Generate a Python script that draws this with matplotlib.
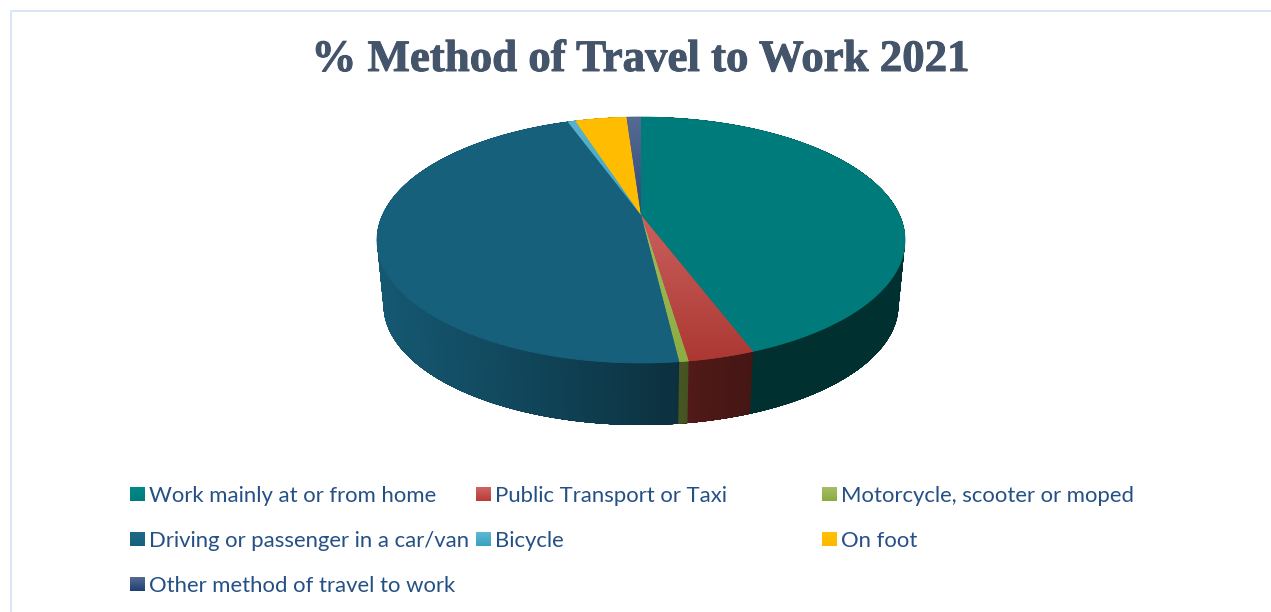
import numpy as np
import matplotlib
matplotlib.use('Agg')
import matplotlib.pyplot as plt
import matplotlib.patheffects as pe
from matplotlib.colors import LinearSegmentedColormap, to_rgb
from matplotlib.patches import Polygon

# share of workers per method, %
methods = ['Work mainly at or from home', 'Public Transport or Taxi', 'Motorcycle, scooter or moped',
           'Driving or passenger in a car/van', 'Bicycle', 'On foot', 'Other method of travel to work']
shares = [44.3, 3.35, 0.47, 46.4, 0.58, 3.83, 1.07]

# (light, dark) ends of each slice's vertical gradient
top_colors = [('#007c7c', '#007a7a'), ('#c9605c', '#ad3833'), ('#a0bb5c', '#8dac44'),
              ('#17607c', '#17607c'), ('#58b2ce', '#3ea6c4'), ('#ffbd00', '#ffbb00'),
              ('#566a92', '#2c4a7c')]
swatch_colors = [('#008a88', '#007c7c'), ('#cc6663', '#bb3a36'), ('#a6c062', '#8aaa42'),
                 ('#1c6a88', '#17607c'), ('#5fb8d2', '#36a2c0'), ('#ffc000', '#ffb800'),
                 ('#566a92', '#1f3f72')]

WIDTH, HEIGHT = 1271, 612
CX, APEX_Y = 641, 215

# perspective of the pie disc
K = 0.2033
A = 117.9
B = 258.5
DROP = 65.7
SHRINK = 0.975


def project(theta, lower=False):
    # theta runs clockwise from 12 o'clock, returns pixel positions
    x, y = np.sin(theta), np.cos(theta)
    w = 1 + K * y
    px = B * x / w
    py = -A * y / w
    if lower:
        return CX + SHRINK * px, APEX_Y + DROP + SHRINK * py
    return CX + px, APEX_Y + py


def side_shade(px):
    # wall is close to the top colour on the far left, darkens towards the right
    return np.interp(px, [377, 470, 600, 680, 700, 760], [0.92, 0.80, 0.62, 0.50, 0.45, 0.39])


def gradient(ax, colors, extent, clip=None):
    cmap = LinearSegmentedColormap.from_list('g', colors)
    im = ax.imshow(np.linspace(0, 1, 64).reshape(-1, 1), cmap=cmap, aspect='auto', extent=extent,
                   interpolation='bilinear', zorder=3)
    if clip is not None:
        im.set_clip_path(clip)
    return im


plt.rcParams['font.family'] = ['Lato', 'DejaVu Sans']

fig = plt.figure(figsize=(WIDTH / 100, HEIGHT / 100), dpi=100, facecolor='white')
ax = fig.add_axes([0, 0, 1, 1])
ax.axis('off')

# chart frame, open at the right and bottom
ax.plot([10.5, 10.5, WIDTH], [HEIGHT, 11, 11], color='#d9e6f7', lw=1.4, zorder=1)

title = ax.text(641, 60, '% Method of Travel to Work 2021', family='Liberation Serif', weight='bold',
                fontsize=32.3, color='#44546a', ha='center', va='center')
title.set_path_effects([pe.withStroke(linewidth=0.7, foreground='#44546a')])

edges = np.cumsum([0] + shares) / np.sum(shares) * 2 * np.pi

# side wall, back to front so the top disc hides the far part
# strips overlap the following ones so thin slivers at the silhouette stay opaque
OVERLAP = 0.12
for i, share in enumerate(shares):
    n = max(3, int(share * 12))
    th = np.linspace(edges[i], edges[i + 1], n)
    base = np.array(to_rgb(top_colors[i][1]))
    for t0, t1 in zip(th[:-1], th[1:]):
        arc = np.linspace(t0, t1 + OVERLAP, 8)
        xu, yu = project(arc)
        xl, yl = project(arc, lower=True)
        c = base * side_shade(project((t0 + t1) / 2)[0])
        ax.fill(np.r_[xu, xl[::-1]], np.r_[yu, yl[::-1]], color=c, lw=0, zorder=2)

# top of the pie
for i, share in enumerate(shares):
    th = np.linspace(edges[i], edges[i + 1], max(8, int(share * 8)))
    xs, ys = project(th)
    xs = np.r_[CX, xs]
    ys = np.r_[APEX_Y, ys]
    poly = Polygon(np.c_[xs, ys], closed=True, facecolor=top_colors[i][1], edgecolor=top_colors[i][1],
                   lw=0.5, zorder=2.5)
    ax.add_patch(poly)
    clip = Polygon(np.c_[xs, ys], closed=True, transform=ax.transData)
    gradient(ax, top_colors[i], [xs.min(), xs.max(), ys.max(), ys.min()], clip)

# legend, three columns
col_x = [130, 476, 822]
row_y = [494, 539, 584]
for i, label in enumerate(methods):
    x = col_x[i % 3]
    y = row_y[i // 3]
    gradient(ax, swatch_colors[i], [x, x + 14.5, y + 7, y - 7])
    ax.text(x + 19, y, label, fontsize=15.9, color='#255086', ha='left', va='center_baseline')

ax.set_xlim(0, WIDTH)
ax.set_ylim(HEIGHT, 0)

fig.savefig('out.png', dpi=100, facecolor='white')
